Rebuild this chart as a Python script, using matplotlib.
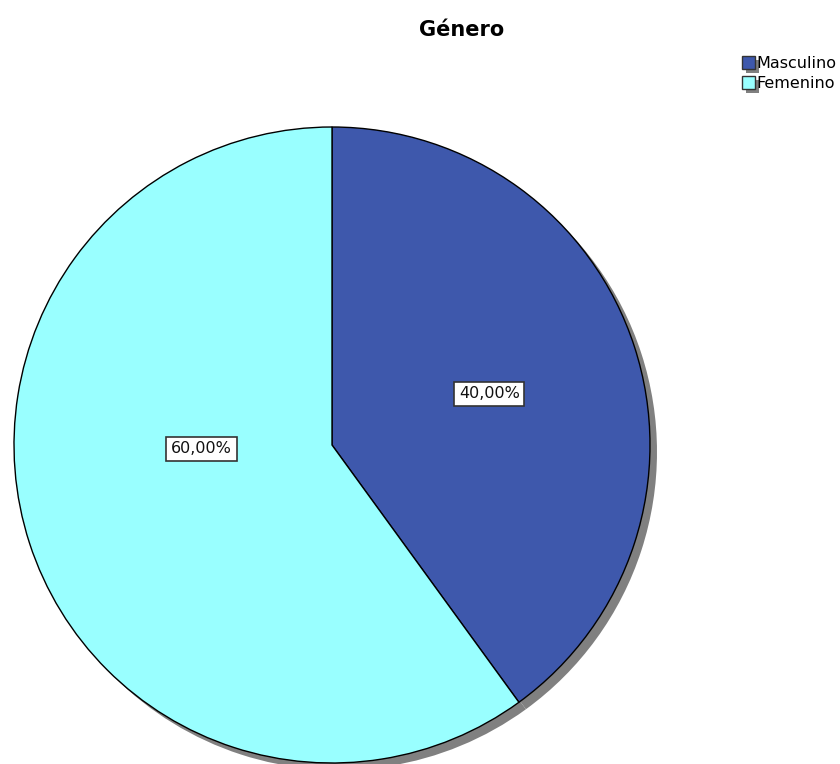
import matplotlib
matplotlib.use("Agg")
import matplotlib.pyplot as plt
from matplotlib.patches import Rectangle
from matplotlib.legend_handler import HandlerPatch

# data
categories = ["Masculino", "Femenino"]
percentages = [40.0, 60.0]
colors = ["#3E58AC", "#99FFFF"]
title = "Género"

W, H = 840, 764
fig = plt.figure(figsize=(W / 100, H / 100), dpi=100)

# pie centre (332, 445) px, radius 318 px
cx, cy, r = 332, 445, 318
ax = fig.add_axes([(cx - r) / W, (H - cy - r) / H, 2 * r / W, 2 * r / H])

# grey shadow underneath
ax.pie(percentages, colors=["#808080"] * 2, startangle=90, counterclock=False,
       center=(0.022, -0.022), radius=1, wedgeprops=dict(linewidth=0),
       frame=True)

wedges, texts, autotexts = ax.pie(
    percentages, colors=colors, startangle=90, counterclock=False,
    radius=1, frame=True,
    autopct=lambda p: f"{p:.2f}%".replace(".", ","), pctdistance=0.52,
    wedgeprops=dict(edgecolor="black", linewidth=1.0),
    textprops=dict(fontsize=11.5, color="#111111"))
ax.set_xlim(-1, 1)
ax.set_ylim(-1, 1)
ax.set_aspect("equal")
ax.axis("off")
for w in ax.patches:
    w.set_clip_on(False)

for t in autotexts:
    t.set_bbox(dict(boxstyle="square,pad=0.3", facecolor="white",
                    edgecolor="#333333", linewidth=1.2))
# SPSS puts the larger label nearer the horizontal
autotexts[1].set_position((-0.41, -0.012))

fig.text(462 / W, 1 - 30 / H, title, ha="center", va="center",
         fontsize=15, fontweight="bold")


class ShadowSquare(HandlerPatch):
    def create_artists(self, legend, orig_handle, xdescent, ydescent,
                       width, height, fontsize, trans):
        s = width
        x0 = -xdescent
        y0 = -ydescent + (height - s) / 2
        sh = Rectangle((x0 + 3, y0 - 3), s, s, facecolor="#808080",
                       edgecolor="none", transform=trans)
        sq = Rectangle((x0, y0), s, s, facecolor=orig_handle.get_facecolor(),
                       edgecolor="#333333", linewidth=1, transform=trans)
        return [sh, sq]


handles = [Rectangle((0, 0), 1, 1, facecolor=c) for c in colors]
fig.legend(handles, categories, loc="upper left",
           bbox_to_anchor=(731 / W, 1 - 45 / H), frameon=False,
           fontsize=11.5, handlelength=0.8, handleheight=0.8,
           handletextpad=0.1, labelspacing=0.3, borderpad=0.2,
           handler_map={Rectangle: ShadowSquare()})

fig.savefig("out.png", dpi=100)
